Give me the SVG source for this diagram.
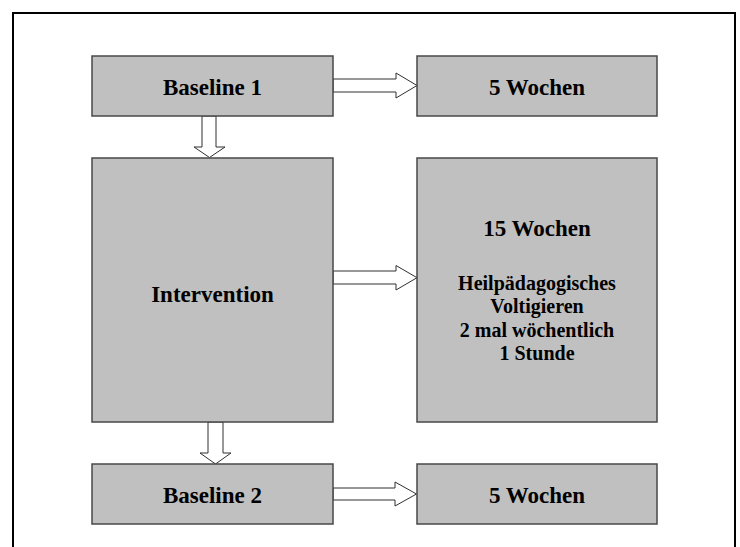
<svg xmlns="http://www.w3.org/2000/svg" width="740" height="547" viewBox="0 0 740 547">
  <style>
    .box { fill: #c0c0c0; stroke: #484848; stroke-width: 1.5; }
    .arrow { fill: #ffffff; stroke: #303030; stroke-width: 1; stroke-linejoin: miter; }
    .lbl { font-family: "Liberation Serif", "Times New Roman", serif; font-weight: bold; fill: #000; text-anchor: middle; }
    .big { font-size: 23px; }
    .small { font-size: 20px; }
  </style>
  <rect x="0" y="0" width="740" height="547" fill="#ffffff"/>
  <!-- outer frame, open at the bottom -->
  <path d="M13,548 V13 H735 V548" fill="none" stroke="#000" stroke-width="2"/>

  <g id="connectors">
    <polygon class="arrow" points="333,79 396,79 396,73 417,85.5 396,98 396,92 333,92"/>
    <polygon class="arrow" points="333,271 396,271 396,265.5 417,277.7 396,290 396,284 333,284"/>
    <polygon class="arrow" points="333,488 395,488 395,482 416.5,494 395,506 395,500 333,500"/>
    <polygon class="arrow" points="202,116 202,147 194,147 209.5,157.5 225,147 216,147 216,116"/>
    <polygon class="arrow" points="208,422 208,453 200,453 215.5,464 231,453 223,453 223,422"/>
  </g>

  <g id="baseline1">
    <rect class="box" x="92" y="56" width="241" height="60"/>
    <text class="lbl big" x="212.5" y="94.5">Baseline 1</text>
  </g>
  <g id="weeks1">
    <rect class="box" x="417" y="56" width="240" height="60"/>
    <text class="lbl big" x="537" y="94.5">5 Wochen</text>
  </g>
  <g id="intervention">
    <rect class="box" x="92" y="158" width="241" height="264"/>
    <text class="lbl big" x="212.5" y="302">Intervention</text>
  </g>
  <g id="weeks15">
    <rect class="box" x="417" y="158" width="240" height="264"/>
    <text class="lbl big" x="537" y="235.5">15 Wochen</text>
    <text class="lbl small" x="537" y="290">Heilpädagogisches</text>
    <text class="lbl small" x="537" y="313.3">Voltigieren</text>
    <text class="lbl small" x="537" y="336.6">2 mal wöchentlich</text>
    <text class="lbl small" x="537" y="360">1 Stunde</text>
  </g>
  <g id="baseline2">
    <rect class="box" x="92" y="464" width="241" height="60"/>
    <text class="lbl big" x="212.5" y="502.5">Baseline 2</text>
  </g>
  <g id="weeks2">
    <rect class="box" x="417" y="464" width="240" height="60"/>
    <text class="lbl big" x="537" y="502.5">5 Wochen</text>
  </g>
</svg>
